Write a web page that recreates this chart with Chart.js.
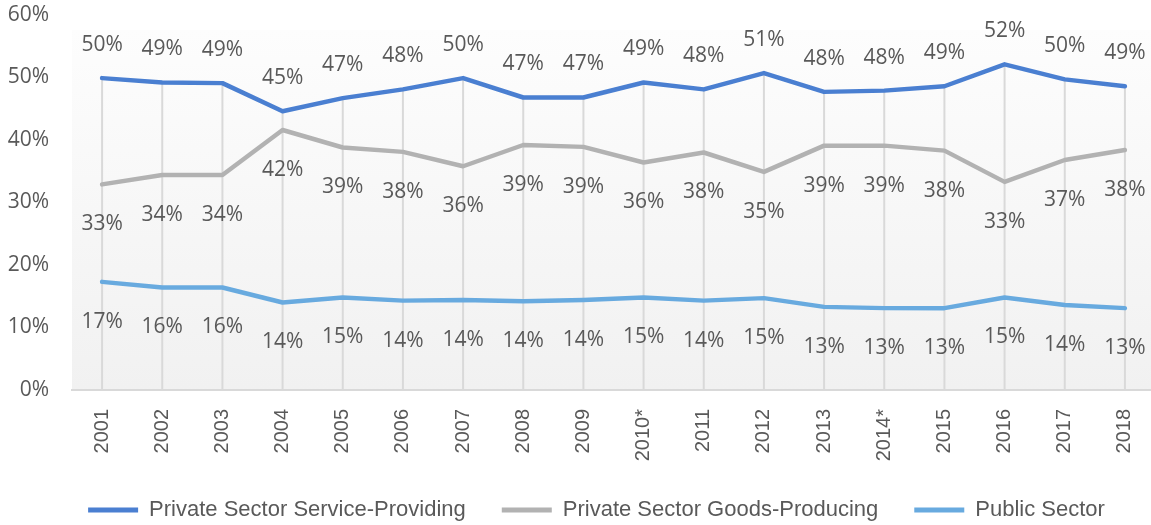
<!DOCTYPE html>
<html>
<head>
<meta charset="utf-8">
<script src="https://cdn.jsdelivr.net/npm/chart.js@4.4.1/dist/chart.umd.min.js"></script>
<style>
  html, body { margin: 0; padding: 0; background: #ffffff; overflow: hidden; }
  #wrap { position: absolute; left: 0; top: 0; width: 1155px; height: 525px; }
</style>
</head>
<body>
<div id="wrap"><canvas id="chart"></canvas></div>
<script>
// Employment share by sector, percent of total
const categories = ['2001', '2002', '2003', '2004', '2005', '2006', '2007', '2008', '2009',
  '2010*', '2011', '2012', '2013', '2014*', '2015', '2016', '2017', '2018'];

const serviceProviding = [49.9, 49.2, 49.1, 44.6, 46.7, 48.1, 49.9, 46.8, 46.8,
  49.2, 48.1, 50.7, 47.7, 47.9, 48.6, 52.1, 49.7, 48.6];
const goodsProducing = [32.9, 34.4, 34.4, 41.6, 38.8, 38.1, 35.8, 39.2, 38.9,
  36.4, 38.0, 34.9, 39.1, 39.1, 38.3, 33.3, 36.8, 38.4];
const publicSector = [17.3, 16.4, 16.4, 14.0, 14.8, 14.3, 14.4, 14.2, 14.4,
  14.8, 14.3, 14.7, 13.3, 13.1, 13.1, 14.8, 13.6, 13.1];

const seriesNames = ['Private Sector Service-Providing', 'Private Sector Goods-Producing', 'Public Sector'];
const yTicks = [0, 10, 20, 30, 40, 50, 60];

const TEXT = '#595959';
const colors = ['#4a7fd1', '#b2b2b2', '#68aadf'];

// Plot fill and drop lines from the top series down to the category axis
const plotDecor = {
  id: 'plotDecor',
  afterLayout(chart, args, opts) {
    // nudge the legend row so it centres under the plot rather than the canvas
    if (chart.legend) chart.legend.left += opts.legendShift;
  },
  beforeDraw(chart, args, opts) {
    const { ctx, chartArea: a } = chart;
    const top = a.top + opts.fillInset;
    ctx.save();
    const g = ctx.createLinearGradient(0, top, 0, a.bottom);
    g.addColorStop(0, opts.fillTop);
    g.addColorStop(1, opts.fillBottom);
    ctx.fillStyle = g;
    ctx.fillRect(a.left, top, a.right - a.left, a.bottom - top);
    ctx.restore();
  },
  beforeDatasetsDraw(chart, args, opts) {
    const { ctx, chartArea: a, scales: { x, y } } = chart;
    ctx.save();
    ctx.strokeStyle = opts.dropColor;
    ctx.lineWidth = opts.dropWidth;
    categories.forEach((c, i) => {
      const peak = Math.max(...chart.data.datasets.map(d => d.data[i]));
      const px = x.getPixelForValue(i);
      ctx.beginPath();
      ctx.moveTo(px, y.getPixelForValue(peak));
      ctx.lineTo(px, a.bottom);
      ctx.stroke();
    });
    ctx.restore();
  }
};

// Value labels above or below each point
const valueLabels = {
  id: 'valueLabels',
  afterDatasetsDraw(chart, args, opts) {
    const { ctx } = chart;
    ctx.save();
    ctx.font = opts.font;
    ctx.fillStyle = opts.color;
    ctx.textAlign = 'center';
    ctx.textBaseline = 'middle';
    chart.data.datasets.forEach((ds, di) => {
      const meta = chart.getDatasetMeta(di);
      const dy = opts.offsets[di];
      meta.data.forEach((pt, i) => {
        ctx.fillText(Math.round(ds.data[i]) + '%', pt.x, pt.y + dy);
      });
    });
    ctx.restore();
  }
};

const seriesData = [serviceProviding, goodsProducing, publicSector];

new Chart(document.getElementById('chart'), {
  type: 'line',
  data: {
    labels: categories,
    datasets: seriesData.map((d, i) => ({
      label: seriesNames[i],
      data: d,
      borderColor: colors[i],
      backgroundColor: colors[i],
      borderWidth: 4.5,
      pointRadius: 0,
      pointHoverRadius: 0,
      tension: 0,
      borderJoinStyle: 'round',
      borderCapStyle: 'round',
      fill: false
    }))
  },
  options: {
    responsive: true,
    maintainAspectRatio: false,
    animation: false,
    events: [],
    layout: { padding: { top: 15, left: 0, right: 0, bottom: -6 } },
    scales: {
      x: {
        offset: true,
        grid: { display: false, drawTicks: false },
        border: { display: true, color: '#d9d9d9', width: 2 },
        ticks: {
          autoSkip: false,
          minRotation: 90,
          maxRotation: 90,
          padding: 19,
          color: TEXT,
          font: { family: '"Liberation Sans", Arial, sans-serif', size: 20 }
        },
        afterFit(scale) {
          scale.height = 73;
          scale.paddingLeft = 0;
          scale.paddingRight = 0;
        }
      },
      y: {
        min: 0,
        max: 60,
        afterBuildTicks(scale) { scale.ticks = yTicks.map(v => ({ value: v })); },
        grid: { display: false, drawTicks: false },
        border: { display: false },
        ticks: {
          padding: 23,
          color: TEXT,
          font: { family: '"Open Sans", sans-serif', size: 21 },
          callback: v => v + '%'
        },
        afterFit(scale) {
          scale.width = 72;
          scale.paddingTop = 0;
          scale.paddingBottom = 0;
        }
      }
    },
    plugins: {
      legend: {
        position: 'bottom',
        labels: {
          color: TEXT,
          font: { family: '"Liberation Sans", sans-serif', size: 22 },
          boxWidth: 50,
          boxHeight: 5,
          padding: 36,
          generateLabels(chart) {
            return chart.data.datasets.map((ds, i) => ({
              text: ds.label,
              fillStyle: ds.borderColor,
              strokeStyle: ds.borderColor,
              lineWidth: 0,
              fontColor: TEXT,
              hidden: false,
              datasetIndex: i
            }));
          }
        }
      },
      tooltip: { enabled: false },
      plotDecor: { legendShift: 38, fillInset: 15, fillTop: '#fdfdfd', fillBottom: '#f1f1f1', dropColor: '#d9d9d9', dropWidth: 2 },
      valueLabels: { font: '21px "Open Sans", sans-serif', color: TEXT, offsets: [-33, 40, 40] }
    }
  },
  plugins: [plotDecor, valueLabels]
});
</script>
</body>
</html>
